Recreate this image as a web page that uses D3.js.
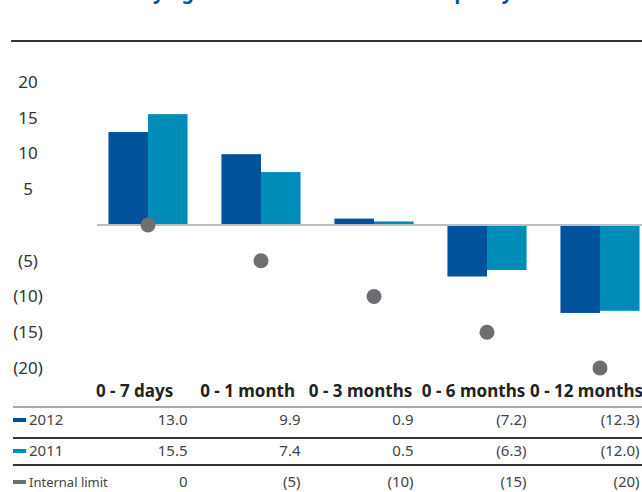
<!DOCTYPE html>
<html>
<head>
<meta charset="utf-8">
<script src="https://cdn.jsdelivr.net/npm/d3@7"></script>
<style>
  body { margin: 0; background: #fff; }
  text { font-family: "Noto Sans", sans-serif; }
</style>
</head>
<body>
<div id="chart"></div>
<script>
// data
var categories = ["0 - 7 days", "0 - 1 month", "0 - 3 months", "0 - 6 months", "0 - 12 months"];
var values2012 = [13.0, 9.9, 0.9, -7.2, -12.3];
var values2011 = [15.5, 7.4, 0.5, -6.3, -12.0];
var internalLimit = [0, -5, -10, -15, -20];
var yTicks = [20, 15, 10, 5, -5, -10, -15, -20];
var title = "Key figures for the excess cover capacity";

var width = 642, height = 492;
var c2012 = "#00529b", c2011 = "#008cb8", cLimit = "#6d6e71";

function fmt(v, digits) {
  var s = Math.abs(v).toFixed(digits);
  return v < 0 ? "(" + s + ")" : s;
}

var svg = d3.select("#chart").append("svg")
    .attr("width", width)
    .attr("height", height);

// title (cropped at the top edge, as in the source)
svg.append("text")
    .attr("x", 321)
    .attr("y", -1)
    .attr("text-anchor", "middle")
    .attr("font-weight", "bold")
    .attr("font-size", 19)
    .attr("fill", "#00529b")
    .text(title);

svg.append("line")
    .attr("x1", 11).attr("x2", width)
    .attr("y1", 41).attr("y2", 41)
    .attr("stroke", "#333")
    .attr("stroke-width", 2);

// scales
var x = d3.scaleBand()
    .domain(categories)
    .range([91.5, 656.5])
    .paddingInner(0.3)
    .paddingOuter(0.15);

var x1 = d3.scaleBand()
    .domain(["2012", "2011"])
    .range([0, x.bandwidth()]);

var y = d3.scaleLinear()
    .domain([-20, 20])
    .range([368, 82]);

// y tick labels
svg.append("g")
  .selectAll("text")
  .data(yTicks)
  .enter()
  .append("text")
    .attr("x", 28)
    .attr("y", d => y(d))
    .attr("dy", "0.35em")
    .attr("text-anchor", "middle")
    .attr("font-size", 17)
    .attr("fill", "#333")
    .text(d => fmt(d, 0));

// bars
var groups = svg.append("g")
  .selectAll("g")
  .data(categories)
  .enter()
  .append("g")
    .attr("transform", d => "translate(" + x(d) + ",0)");

groups.append("rect")
    .attr("x", x1("2012"))
    .attr("width", x1.bandwidth())
    .attr("y", (d, i) => y(Math.max(0, values2012[i])))
    .attr("height", (d, i) => Math.abs(y(values2012[i]) - y(0)))
    .attr("fill", c2012);

groups.append("rect")
    .attr("x", x1("2011"))
    .attr("width", x1.bandwidth())
    .attr("y", (d, i) => y(Math.max(0, values2011[i])))
    .attr("height", (d, i) => Math.abs(y(values2011[i]) - y(0)))
    .attr("fill", c2011);

// zero line
svg.append("line")
    .attr("x1", 97).attr("x2", width)
    .attr("y1", y(0)).attr("y2", y(0))
    .attr("stroke", "#bcbec0")
    .attr("stroke-width", 2);

// internal limit dots
svg.append("g")
  .selectAll("circle")
  .data(categories)
  .enter()
  .append("circle")
    .attr("cx", d => x(d) + x.bandwidth() / 2)
    .attr("cy", (d, i) => y(internalLimit[i]))
    .attr("r", 7.5)
    .attr("fill", cLimit);

// table headers
svg.append("g")
  .selectAll("text")
  .data(categories)
  .enter()
  .append("text")
    .attr("x", d => x(d) + x.bandwidth() - 53)
    .attr("y", 397)
    .attr("text-anchor", "middle")
    .attr("font-weight", "bold")
    .attr("font-size", 17)
    .attr("fill", "#222")
    .text(d => d);

// table rows
var rows = [
  {label: "2012", vals: values2012, digits: 1, color: c2012, size: 15, y: 420},
  {label: "2011", vals: values2011, digits: 1, color: c2011, size: 15, y: 451},
  {label: "Internal limit", vals: internalLimit, digits: 0, color: cLimit, size: 13, y: 482}
];
var lineYs = [407, 438, 465];
var lineColors = ["#a7a9ac", "#333", "#333"];

svg.append("g")
  .selectAll("line")
  .data(lineYs)
  .enter()
  .append("line")
    .attr("x1", 13).attr("x2", width)
    .attr("y1", d => d).attr("y2", d => d)
    .attr("stroke", (d, i) => lineColors[i])
    .attr("stroke-width", 2);

rows.forEach(function (r) {
  var g = svg.append("g");
  g.append("rect")
      .attr("x", 13).attr("y", r.y - 2)
      .attr("width", 13).attr("height", 4)
      .attr("fill", r.color);
  g.append("text")
      .attr("x", 29).attr("y", r.y)
      .attr("dy", "0.35em")
      .attr("font-size", r.size)
      .attr("fill", "#444")
      .text(r.label);
  g.selectAll(".val")
    .data(categories)
    .enter()
    .append("text")
      .attr("x", d => x(d) + x.bandwidth())
      .attr("y", r.y)
      .attr("dy", "0.35em")
      .attr("text-anchor", "end")
      .attr("font-size", 15)
      .attr("fill", "#444")
      .text((d, i) => fmt(r.vals[i], r.digits));
});
</script>
</body>
</html>
